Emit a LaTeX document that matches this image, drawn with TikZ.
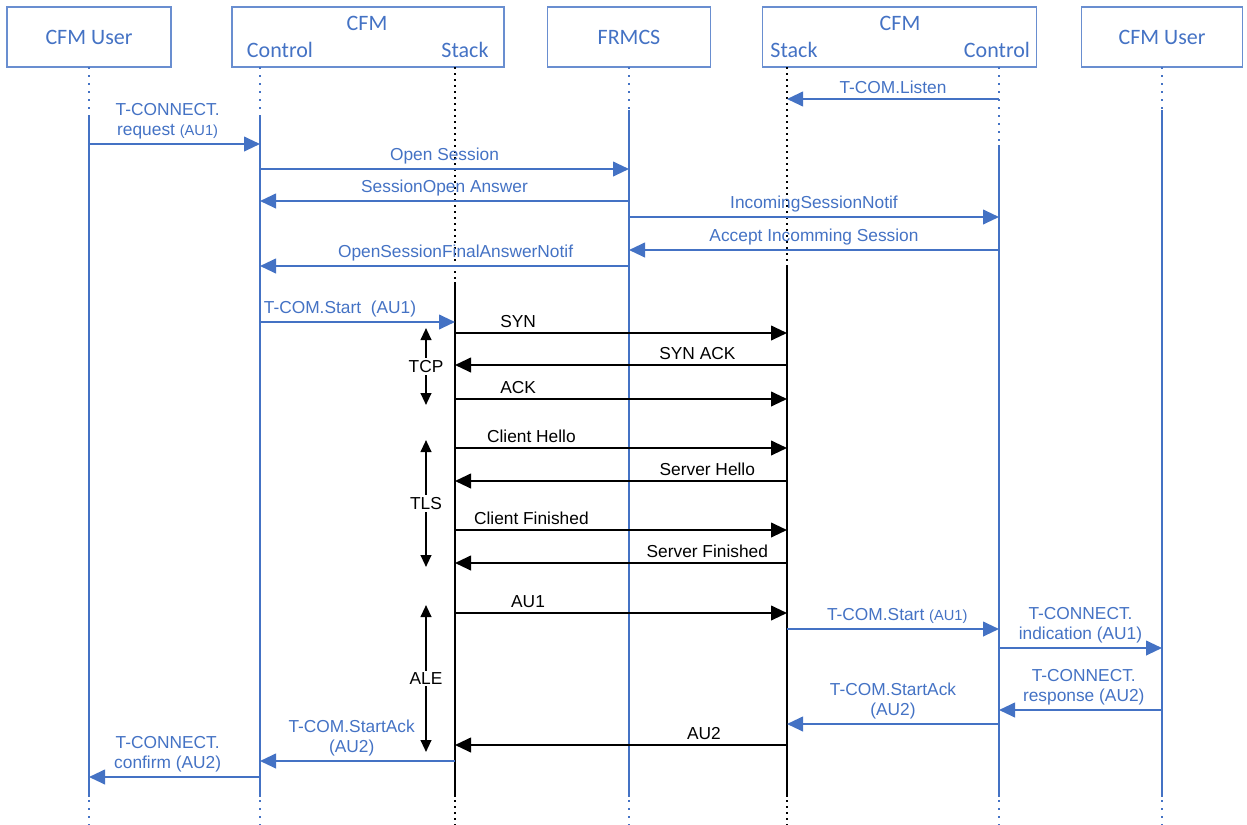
\documentclass[tikz,border=0pt]{standalone}
\usepackage{fontspec}
\setmainfont{Liberation Sans}
\newfontfamily\headfont{Carlito}
\usetikzlibrary{arrows.meta}
\definecolor{cfmblue}{HTML}{4472C4}
\tikzset{
  head/.style={draw=cfmblue!80, line width=0.8pt, minimum height=45pt, inner sep=0pt},
  htext/.style={font=\headfont\fontsize{16.5}{18}\selectfont, text=cfmblue, inner sep=0pt},
  life/.style={cfmblue, line width=1.5pt},
  lifedot/.style={cfmblue, line width=1.3pt, dash pattern=on 1.3pt off 4.7pt},
  stack/.style={black, line width=1.5pt},
  stackdot/.style={black, line width=1.5pt, dash pattern=on 1.5pt off 3pt},
  bmsg/.style={cfmblue, line width=1.5pt, -{Triangle[length=12pt,width=11pt]}},
  kmsg/.style={black, line width=1.5pt, -{Triangle[length=12pt,width=11pt]}},
  blab/.style={text=cfmblue, font=\fontsize{13}{15}\selectfont, align=center, anchor=south, inner sep=3pt},
  klab/.style={text=black, font=\fontsize{13}{15}\selectfont, anchor=south, inner sep=3pt},
  phase/.style={black, line width=1.5pt, {Triangle[length=9pt,width=8pt]}-{Triangle[length=9pt,width=8pt]}}
}
\begin{document}
\begin{tikzpicture}[x=0.75pt,y=-0.75pt]
  \useasboundingbox (0,0) rectangle (1247,825);
  % header boxes
  \node[head, minimum width=123pt] (hUserL) at (89,37) {};
  \node[head, minimum width=204pt] (hCfmL) at (368,37) {};
  \node[head, minimum width=122pt] (hFrmcs) at (629,37) {};
  \node[head, minimum width=205pt] (hCfmR) at (899.5,37) {};
  \node[head, minimum width=121pt] (hUserR) at (1162,37) {};
  \node[htext] (tUserL) at (hUserL) {CFM User};
  \node[htext] (tCfmL) at (367,23) {CFM};
  \node[htext] (tCtrlL) at (280,50) {Control};
  \node[htext] (tStackL) at (465,50) {Stack};
  \node[htext] (tFrmcs) at (hFrmcs) {FRMCS};
  \node[htext] (tCfmR) at (900,23) {CFM};
  \node[htext] (tStackR) at (794,50) {Stack};
  \node[htext] (tCtrlR) at (997,50) {Control};
  \node[htext] (tUserR) at (hUserR) {CFM User};
  % lifelines
  \foreach \nm/\x/\ys in {userL/89/115, ctrlL/260/115, frmcs/629/110, ctrlR/999/145, userR/1162/110} {
    \coordinate (\nm) at (\x,67);
    \draw[lifedot] (\nm) -- (\x,\ys);
    \draw[life] (\x,\ys) -- (\x,797);
    \draw[lifedot] (\x,800) -- (\x,825);
  }
  \foreach \nm/\x/\ys in {stackL/455/282, stackR/787/267} {
    \coordinate (\nm) at (\x,67);
    \draw[stackdot] (\nm) -- (\x,\ys);
    \draw[stack] (\x,\ys) -- (\x,797);
    \draw[stackdot] (\x,800) -- (\x,825);
  }
  % primitives and FRMCS messages
  \foreach \a/\b/\y/\p/\lab in {
      ctrlR/stackR/99/0.5/{T-COM.Listen},
      userL/ctrlL/144/0.46/{T-CONNECT.\\request {\fontsize{11}{13}\selectfont(AU1)}},
      ctrlL/frmcs/169/0.5/{Open Session},
      frmcs/ctrlL/201/0.5/{SessionOpen Answer},
      frmcs/ctrlR/217/0.5/{IncomingSessionNotif},
      ctrlR/frmcs/250/0.5/{Accept Incomming Session},
      frmcs/ctrlL/266/0.47/{OpenSessionFinalAnswerNotif},
      ctrlL/stackL/322/0.41/{T-COM.Start\ \ (AU1)},
      stackR/ctrlR/629/0.52/{T-COM.Start {\fontsize{11}{13}\selectfont(AU1)}},
      ctrlR/userR/648/0.5/{T-CONNECT.\\indication (AU1)},
      userR/ctrlR/710/0.48/{T-CONNECT.\\response (AU2)},
      ctrlR/stackR/724/0.5/{T-COM.StartAck\\(AU2)},
      stackL/ctrlL/761/0.53/{T-COM.StartAck\\(AU2)},
      ctrlL/userL/777/0.54/{T-CONNECT.\\confirm (AU2)}} {
    \draw[bmsg] (\a |- 0,\y) -- (\b |- 0,\y) node[blab, pos=\p] {\lab};
  }
  % stack to stack exchange
  \foreach \a/\b/\y/\p/\lab in {
      stackL/stackR/333/0.19/SYN,
      stackR/stackL/365/0.27/SYN ACK,
      stackL/stackR/399/0.19/ACK,
      stackL/stackR/448/0.23/Client Hello,
      stackR/stackL/481/0.24/Server Hello,
      stackL/stackR/530/0.23/Client Finished,
      stackR/stackL/563/0.24/Server Finished,
      stackL/stackR/613/0.22/AU1,
      stackR/stackL/745/0.25/AU2} {
    \draw[kmsg] (\a |- 0,\y) -- (\b |- 0,\y) node[klab, pos=\p] {\lab};
  }
  % phases
  \foreach \nm/\ya/\yb in {TCP/328/405, TLS/440/567, ALE/605/752} {
    \coordinate (\nm a) at (426,\ya);
    \coordinate (\nm b) at (426,\yb);
    \draw[phase] (\nm a) -- (\nm b)
      node[midway, fill=white, inner sep=1.5pt, font=\fontsize{13}{15}\selectfont] (\nm) {\nm};
  }
\end{tikzpicture}
\end{document}
